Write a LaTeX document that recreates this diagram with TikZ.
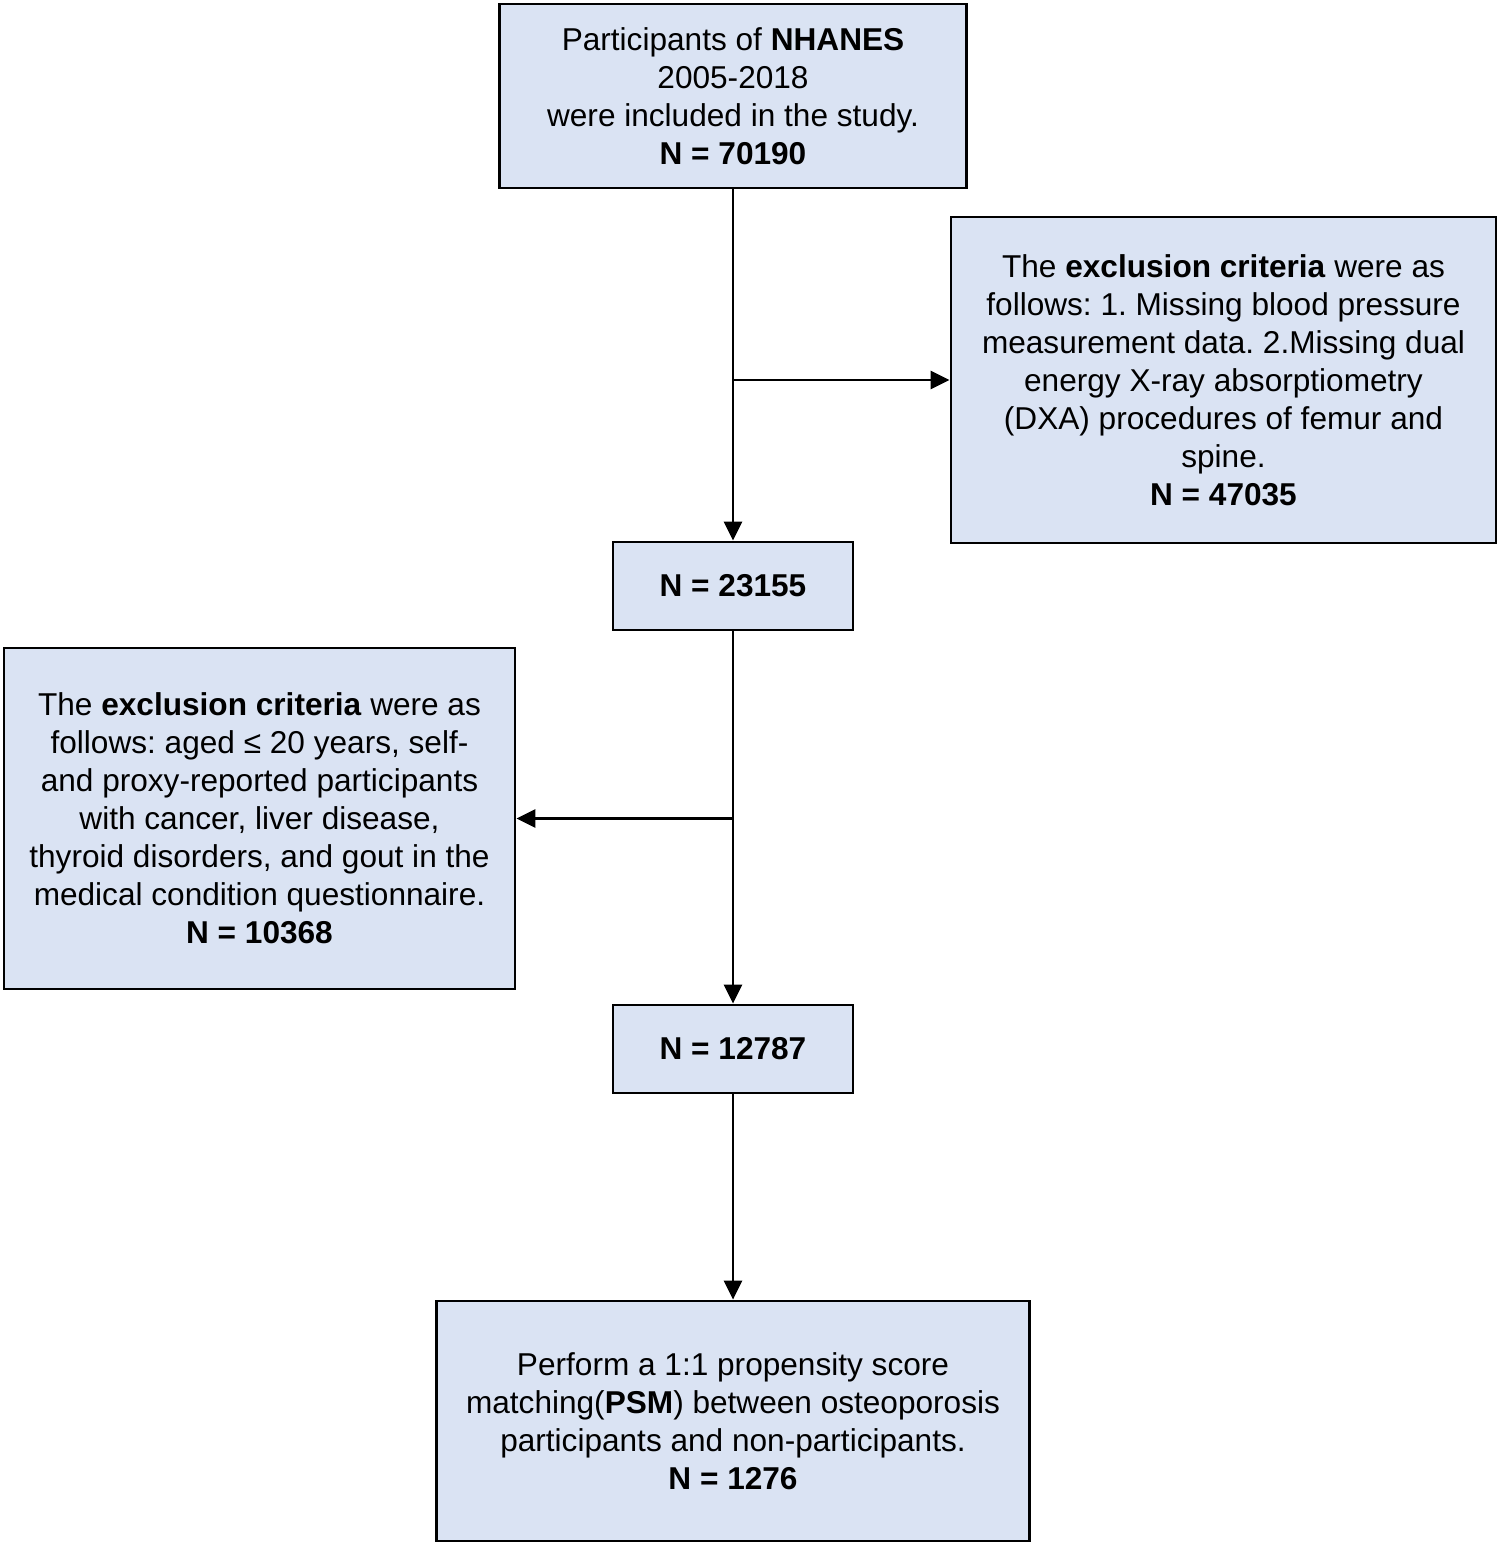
\documentclass[tikz,border=0pt]{standalone}
\usepackage{fontspec}
\setmainfont{Liberation Sans}
\usetikzlibrary{arrows.meta}
\definecolor{boxfill}{HTML}{DAE3F3}
\frenchspacing
\tikzset{
  box/.style={draw=black, line width=2.8pt, fill=boxfill, inner sep=0pt, align=center,
    font=\fontsize{31.6}{38}\selectfont},
  arr/.style={line width=2.8pt, -{Triangle[length=19pt, width=18pt]}}
}
\begin{document}
\begin{tikzpicture}[x=1pt, y=-1pt]
\useasboundingbox (0,0) rectangle (1499,1546);
\node[box, minimum width=467pt, minimum height=184pt] (top) at (733,96)
  {Participants of \textbf{NHANES}\\2005-2018\\were included in the study.\\\textbf{N = 70190}};
\node[box, minimum width=545pt, minimum height=326pt] (ex1) at (1223.5,380)
  {The \textbf{exclusion criteria} were as\\follows: 1. Missing blood pressure\\measurement data. 2.Missing dual\\energy X-ray absorptiometry\\(DXA) procedures of femur and\\spine.\\\textbf{N = 47035}};
\node[box, minimum width=240pt, minimum height=88pt] (n1) at (733,586) {\textbf{N = 23155}};
\node[box, minimum width=511pt, minimum height=341pt] (ex2) at (259.5,818.5)
  {The \textbf{exclusion criteria} were as\\follows: aged ≤ 20 years, self-\\and proxy-reported participants\\with cancer, liver disease,\\thyroid disorders, and gout in the\\medical condition questionnaire.\\\textbf{N = 10368}};
\node[box, minimum width=240pt, minimum height=88pt] (n2) at (733,1049) {\textbf{N = 12787}};
\node[box, minimum width=593pt, minimum height=240pt] (fin) at (733,1421)
  {Perform a 1:1 propensity score\\matching(\textbf{PSM}) between osteoporosis\\participants and non-participants.\\\textbf{N = 1276}};
\coordinate (b1) at (733,380);
\coordinate (b2) at (733,818.5);
\draw[arr] (top) -- (n1);
\draw[arr] (b1) -- (b1 -| ex1.west);
\draw[arr] (n1) -- (n2);
\draw[arr] (b2) -- (b2 -| ex2.east);
\draw[arr] (n2) -- (fin);
\end{tikzpicture}
\end{document}
